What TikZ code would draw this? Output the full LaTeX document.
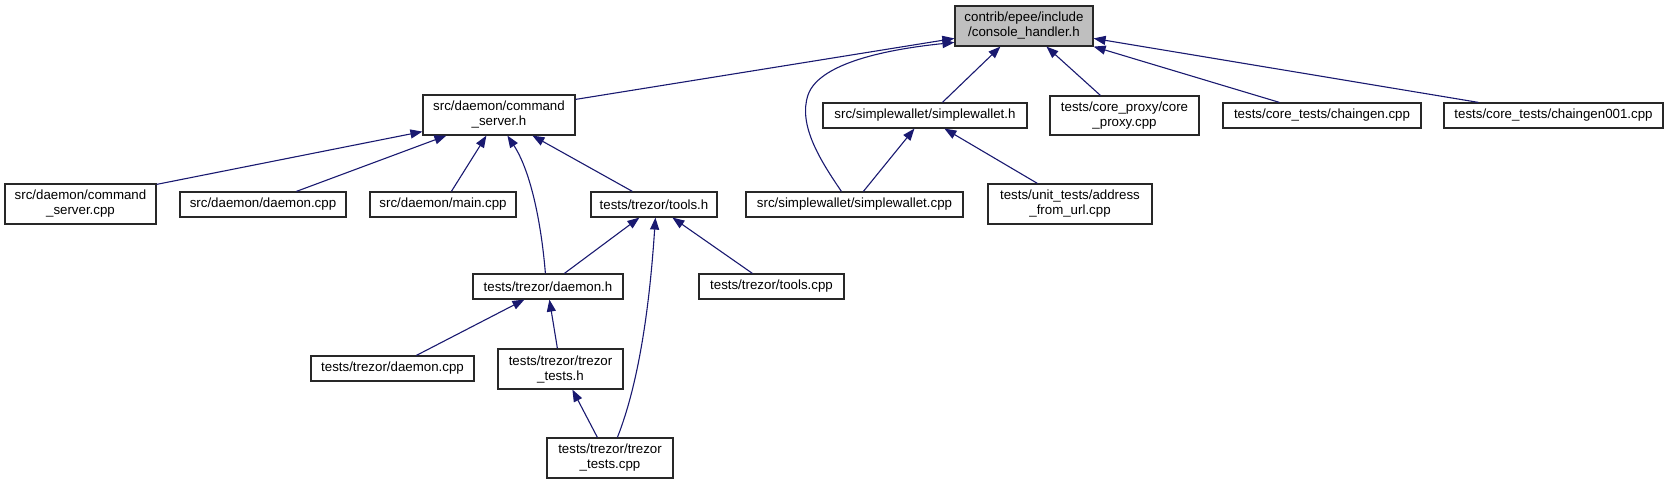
\documentclass[tikz,border=0pt]{standalone}
\usepackage{fontspec}
\setmainfont{Liberation Sans}
\usetikzlibrary{arrows.meta,calc}
\definecolor{edgeblue}{RGB}{25,25,112}
\definecolor{hlgray}{RGB}{191,191,191}
\definecolor{boxline}{RGB}{40,40,40}
\begin{document}
\begin{tikzpicture}[x=1pt,y=-1pt,
  filebox/.style={draw=boxline,line width=1.2pt,rectangle,inner sep=0pt,align=center,
    font=\fontsize{13.3}{15}\selectfont,fill=white},
  dep/.style={draw=edgeblue,line width=1.1pt,-{Triangle[length=12pt,width=9pt]},fill=none}
]
\useasboundingbox (0,0) rectangle (1669,484);
% nodes
\node[filebox,fill=hlgray,minimum width=138pt,minimum height=40pt] (ch) at (1024,26) {contrib/epee/include\\/console\_handler.h};
\node[filebox,minimum width=152pt,minimum height=40pt] (cs) at (499,115) {src/daemon/command\\\_server.h};
\node[filebox,minimum width=204pt,minimum height=25pt] (sw) at (925,115.5) {src/simplewallet/simplewallet.h};
\node[filebox,minimum width=149pt,minimum height=39pt] (cp) at (1124.5,115.5) {tests/core\_proxy/core\\\_proxy.cpp};
\node[filebox,minimum width=198pt,minimum height=25pt] (cg) at (1322,115.5) {tests/core\_tests/chaingen.cpp};
\node[filebox,minimum width=219pt,minimum height=25pt] (cga) at (1553.5,115.5) {tests/core\_tests/chaingen001.cpp};
\node[filebox,minimum width=151pt,minimum height=40pt] (csc) at (80.5,204) {src/daemon/command\\\_server.cpp};
\node[filebox,minimum width=166pt,minimum height=25pt] (dc) at (263,204.5) {src/daemon/daemon.cpp};
\node[filebox,minimum width=146pt,minimum height=25pt] (mc) at (443,204.5) {src/daemon/main.cpp};
\node[filebox,minimum width=126pt,minimum height=25pt] (th) at (654,204.5) {tests/trezor/tools.h};
\node[filebox,minimum width=217pt,minimum height=25pt] (swc) at (854.5,204.5) {src/simplewallet/simplewallet.cpp};
\node[filebox,minimum width=164pt,minimum height=40pt] (afu) at (1070,204) {tests/unit\_tests/address\\\_from\_url.cpp};
\node[filebox,minimum width=150pt,minimum height=25pt] (dh) at (548,286.5) {tests/trezor/daemon.h};
\node[filebox,minimum width=145pt,minimum height=25pt] (tc) at (771.5,286.5) {tests/trezor/tools.cpp};
\node[filebox,minimum width=163pt,minimum height=25pt] (tdc) at (392.5,368.5) {tests/trezor/daemon.cpp};
\node[filebox,minimum width=125pt,minimum height=40pt] (tth) at (560.5,369) {tests/trezor/trezor\\\_tests.h};
\node[filebox,minimum width=126pt,minimum height=40pt] (ttc) at (610,458) {tests/trezor/trezor\\\_tests.cpp};
% edges
\draw[dep] ($(cs.north east)+(0,5)$) -- ($(ch.north west)+(0,33)$);
\draw[dep] ($(swc.north west)+(96,0)$) .. controls (820,160) and (798,125) .. (808,95)
  .. controls (820,60) and (900,48) .. ($(ch.north west)+(0,37)$);
\draw[dep] ($(sw.north west)+(120,0)$) -- ($(ch.south west)+(46,0)$);
\draw[dep] ($(cp.north west)+(51,0)$) -- ($(ch.south west)+(92,0)$);
\draw[dep] ($(cg.north west)+(57,0)$) -- (ch.south east);
\draw[dep] ($(cga.north west)+(35,0)$) -- ($(ch.north east)+(0,33)$);
\draw[dep] ($(csc.north east)+(0,1)$) -- ($(cs.south west)+(0,-4)$);
\draw[dep] ($(dc.north west)+(117,0)$) -- ($(cs.south west)+(24,0)$);
\draw[dep] ($(mc.north west)+(82,0)$) -- ($(cs.south west)+(64,0)$);
\draw[dep] ($(dh.north west)+(73,0)$) .. controls (541,220) and (530,170) .. ($(cs.south west)+(85,0)$);
\draw[dep] ($(th.north west)+(42,0)$) -- ($(cs.south west)+(110,0)$);
\draw[dep] ($(swc.north west)+(118,0)$) -- ($(sw.south west)+(92,0)$);
\draw[dep] ($(afu.north west)+(50,0)$) -- ($(sw.south west)+(122,0)$);
\draw[dep] ($(dh.north west)+(92,0)$) -- ($(th.south west)+(49,0)$);
\draw[dep] ($(ttc.north west)+(71,0)$) .. controls (640,380) and (650,300) .. ($(th.south west)+(65,0)$);
\draw[dep] ($(tc.north west)+(54,0)$) -- ($(th.south west)+(82,0)$);
\draw[dep] ($(tdc.north west)+(106,0)$) -- ($(dh.south west)+(52,0)$);
\draw[dep] ($(tth.north west)+(60,0)$) -- ($(dh.south west)+(77,0)$);
\draw[dep] ($(ttc.north west)+(51,0)$) -- ($(tth.south west)+(75,0)$);
\end{tikzpicture}
\end{document}
